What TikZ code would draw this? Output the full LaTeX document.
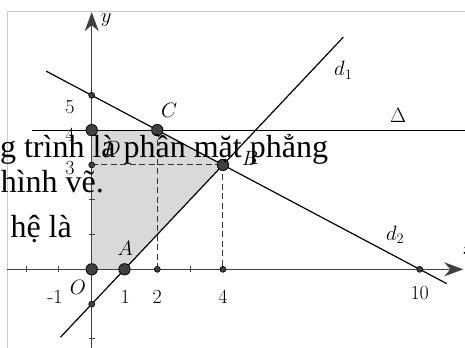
\documentclass[tikz,border=0pt]{standalone}
\usepackage{fontspec}
\newfontfamily\ovfont{Liberation Serif}
\usetikzlibrary{arrows.meta}
\definecolor{axisgray}{HTML}{404040}
\definecolor{regiongray}{HTML}{D9D9D9}
\definecolor{framegray}{HTML}{CCCCCC}
\tikzset{
  lbl/.style={inner sep=0pt, font=\fontsize{20}{24}\selectfont},
  ovtext/.style={inner sep=0pt, anchor=base east, font=\ovfont\fontsize{32}{36}\selectfont},
  axisline/.style={draw=axisgray, line width=1.5pt, -{Stealth[length=19pt,width=14pt,inset=6pt]}},
  thinline/.style={draw=black, line width=1.2pt},
  dashline/.style={draw=black!80, line width=1pt, dash pattern=on 6pt off 3.5pt},
  bigdot/.style={fill=axisgray, draw=black, line width=0.8pt},
  smalldot/.style={fill=axisgray, draw=black, line width=0.6pt},
  tickmark/.style={draw=axisgray, line width=1pt}
}
\begin{document}
\begin{tikzpicture}[x=32.8pt, y=34.8pt]
\useasboundingbox (-2.796,-2.233) rectangle (11.381,7.739);
% frame
\draw[framegray, line width=1pt] (-2.573,-2.3) -- (-2.573,7.422) -- (11.5,7.422);
% coordinates
\coordinate (O) at (0,0);
\coordinate (A) at (1,0);
\coordinate (B) at (4,3);
\coordinate (C) at (2,4);
\coordinate (Y4) at (0,4);
\coordinate (Y3) at (0,3);
\coordinate (Y5) at (0,5);
\coordinate (Ym1) at (0,-1);
\coordinate (X2) at (2,0);
\coordinate (X4) at (4,0);
\coordinate (X10) at (10,0);
\coordinate (d1s) at (-0.95,-1.95);
\coordinate (d1e) at (7.67,6.67);
\coordinate (d2s) at (-1.39,5.695);
\coordinate (d2e) at (10.82,-0.41);
\coordinate (Ds) at (-1.83,4);
\coordinate (De) at (11.5,4);
\coordinate (xs) at (-2.573,0);
\coordinate (xe) at (11.33,0);
\coordinate (ys) at (0,-2.3);
\coordinate (ye) at (0,7.39);
% shaded region
\fill[regiongray] (O) -- (A) -- (B) -- (C) -- (Y4) -- cycle;
% dashed
\draw[dashline] (Y3) -- (B);
\draw[dashline] (C) -- (X2);
\draw[dashline] (B) -- (X4);
% lines
\draw[thinline] (d1s) -- (d1e);
\draw[thinline] (d2s) -- (d2e);
\draw[thinline] (Ds) -- (De);
% axes
\draw[axisline] (xs) -- (xe);
\draw[axisline] (ys) -- (ye);
% ticks
\foreach \t in {-2,-1,3} \draw[tickmark] (\t,0) ++(0,-3pt) -- ++(0,6pt);
\foreach \t in {-2,1,2} \draw[tickmark] (0,\t) ++(-3pt,0) -- ++(6pt,0);
% dots
\foreach \p in {Y5,Y3,Ym1,X2,X4,X10} \filldraw[smalldot] (\p) circle[radius=3pt];
\foreach \p in {Y4,C,B,O,A} \filldraw[bigdot] (\p) circle[radius=5.7pt];
% labels
\node[lbl] (ly) at (0.44,7.17) {$y$};
\node[lbl] (lx) at (11.5,0.55) {$x$};
\node[lbl] (l5) at (-0.66,4.66) {5};
\node[lbl] (l4) at (-0.66,3.86) {4};
\node[lbl] (l3) at (-0.66,2.91) {3};
\node[lbl] (lC) at (2.36,4.58) {$C$};
\node[lbl] (lD) at (0.62,3.48) {$D$};
\node[lbl] (lB) at (4.83,3.2) {$B$};
\node[lbl] (lA) at (1.02,0.61) {$A$};
\node[lbl] (lO) at (-0.42,-0.51) {$O$};
\node[lbl] (lm1) at (-1.12,-0.79) {-1};
\node[lbl] (l1) at (1.02,-0.79) {1};
\node[lbl] (l2) at (2,-0.79) {2};
\node[lbl] (l4x) at (4,-0.79) {4};
\node[lbl] (l10) at (10,-0.68) {10};
\node[lbl] (ld1) at (7.67,5.72) {$d_1$};
\node[lbl] (lDelta) at (9.34,4.43) {$\Delta$};
\node[lbl] (ld2) at (9.25,0.99) {$d_2$};
% overlay text
\node[ovtext] (t1) at (7.21,3.227) {g trình là phần mặt phẳng};
\node[ovtext] (t2) at (0.378,2.221) {hình vẽ.};
\node[ovtext] (t3) at (-0.60,0.928) {hệ là};
\end{tikzpicture}
\end{document}
